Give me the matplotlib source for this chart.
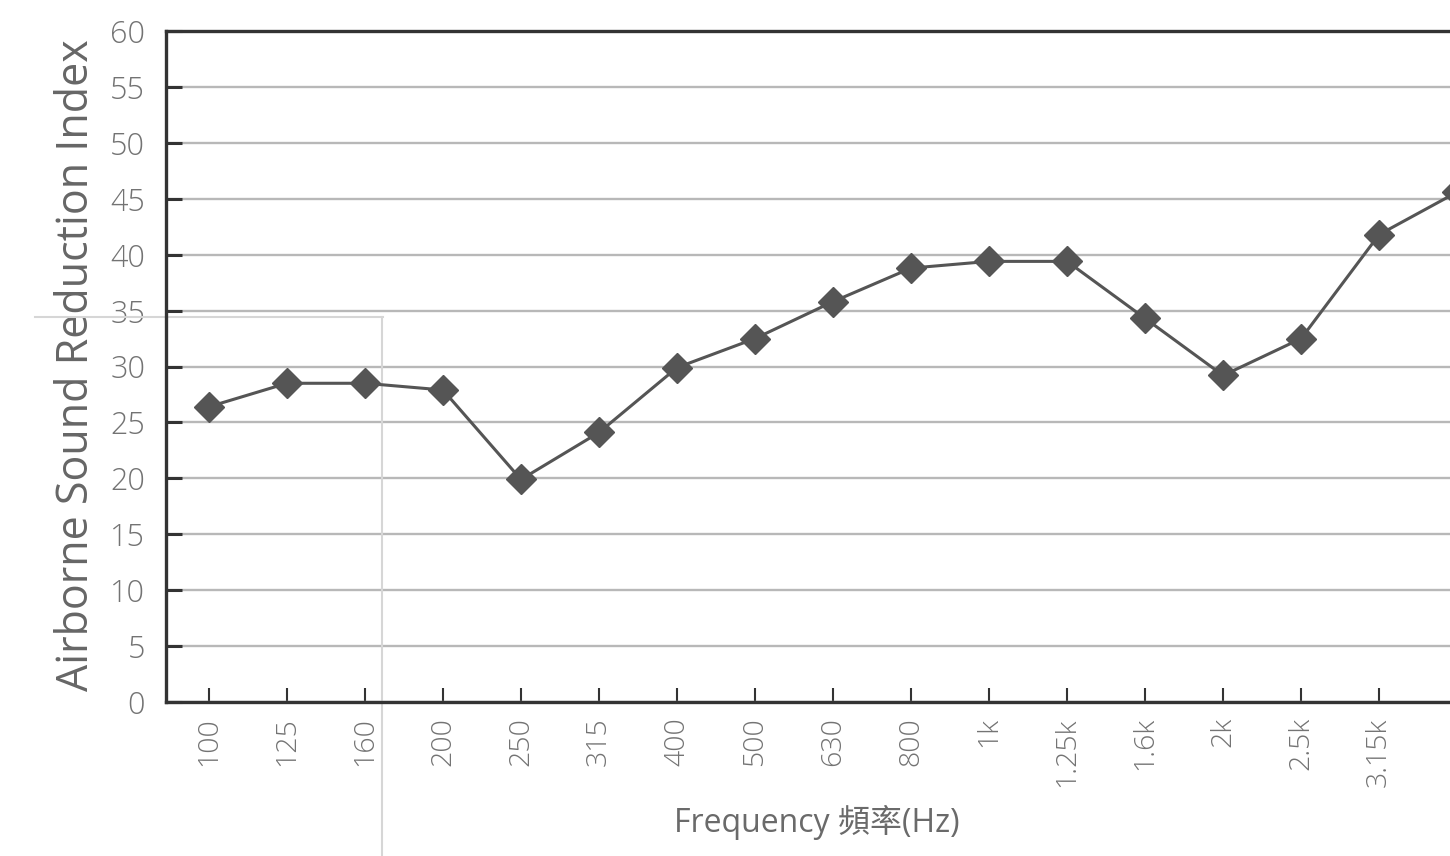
import numpy as np
import matplotlib
matplotlib.use("Agg")
import matplotlib.pyplot as plt

bands = ['100', '125', '160', '200', '250', '315', '400', '500', '630', '800',
         '1k', '1.25k', '1.6k', '2k', '2.5k', '3.15k', '4k']
R = [26.4, 28.5, 28.5, 27.9, 19.9, 24.1, 29.9, 32.5, 35.8, 38.8,
     39.4, 39.4, 34.3, 29.2, 32.5, 41.8, 45.6]
yticks = list(range(0, 61, 5))

plt.rcParams['font.family'] = ['Open Sans', 'Noto Sans CJK TC', 'DejaVu Sans']
plt.rcParams['font.weight'] = 'light'

W, H = 1450, 856
fig = plt.figure(figsize=(W / 100, H / 100), dpi=100)
# axes run past the right edge, like the cropped scan
ax = fig.add_axes([166 / W, 1 - 702 / H, 1338 / W, 671 / H])

x = np.arange(len(bands))
ax.plot(x, R, '-', color='#555555', lw=2.2, marker='D', ms=15.5,
        mfc='#555555', mec='#555555', zorder=3, clip_on=False)

ax.set_xlim(-0.55, 16.6)
ax.set_ylim(0, 60)
ax.set_yticks(yticks)
ax.set_xticks(x[:-1])
ax.set_xticklabels(bands[:-1], rotation=90)
ax.yaxis.grid(True, color='#b8b8b8', lw=1.7)
ax.set_axisbelow(True)

for s in ['left', 'bottom', 'top']:
  ax.spines[s].set_color('#333333')
  ax.spines[s].set_linewidth(2.4)
ax.spines['right'].set_visible(False)

ax.tick_params(axis='y', direction='in', length=11.5, width=2.2, color='#333333',
               pad=15, labelsize=22, labelcolor='#737373')
ax.tick_params(axis='x', direction='in', length=10, width=1.5, color='#333333',
               pad=11, labelsize=20.5, labelcolor='#737373')

ax.set_ylabel('Airborne Sound Reduction Index', fontsize=31, color='#666666')
ax.yaxis.set_label_coords(-0.050, 0.502)
ax.set_xlabel('Frequency 頻率(Hz)', fontsize=23, color='#6a6a6a')
ax.xaxis.set_label_coords(0.4865, -0.1535)

# faint frame left over from the scan
ax.plot([35 / W, 383 / W], [1 - 317 / H, 1 - 317 / H], color='#d6d6d6', lw=1.5,
        transform=fig.transFigure, clip_on=False, zorder=1.5)
ax.plot([382 / W, 382 / W], [1 - 317 / H, 0], color='#d6d6d6', lw=1.5,
        transform=fig.transFigure, clip_on=False, zorder=1.5)

fig.savefig('out.png', dpi=100)
